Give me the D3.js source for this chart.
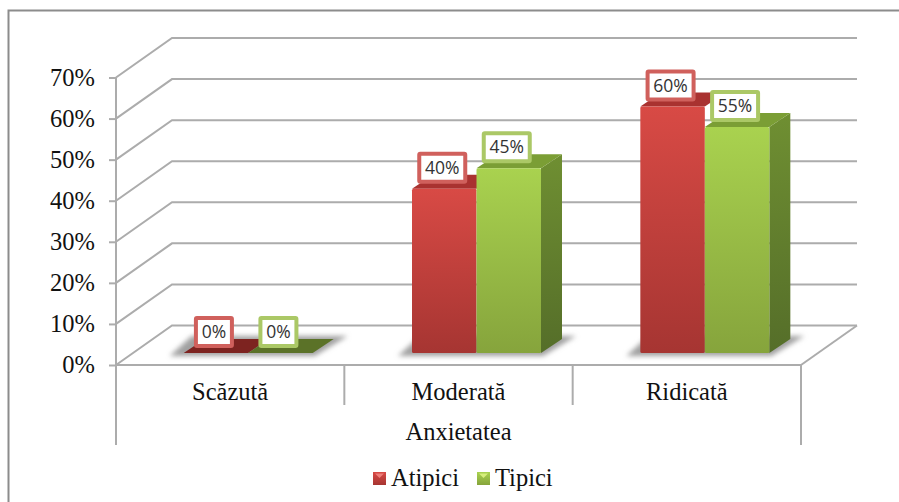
<!DOCTYPE html>
<html>
<head>
<meta charset="utf-8">
<script src="https://cdn.jsdelivr.net/npm/d3@7"></script>
<style>
    html, body { margin: 0; padding: 0; background: #fff; }
    svg { display: block; }
    .serif { font-family: "Liberation Serif", serif; font-size: 24.5px; fill: #111; }
    .data-label { font-family: "Open Sans", sans-serif; font-size: 17.5px; fill: #333; }
</style>
</head>
<body>
<div id="chart"></div>
<script>
const categories = ['Scăzută', 'Moderată', 'Ridicată'];
const seriesNames = ['Atipici', 'Tipici'];
const atipici = [0, 40, 60];
const tipici = [0, 45, 55];
const yTicks = [0, 10, 20, 30, 40, 50, 60, 70];
const axisTitle = 'Anxietatea';

const width = 899, height = 502;

// the "3d" look: how far the back wall and the bars are shifted
const wall = {dx: 56, dy: -39.5};
const floorShift = {dx: 18, dy: -12};
const depth = {dx: 21, dy: -14};

const svg = d3.select('#chart').append('svg')
    .attr('width', width)
    .attr('height', height);

const xScale = d3.scaleBand().domain(categories).range([116, 801]);
const yScale = d3.scaleLinear().domain([0, 70]).range([365, 77.5]);
const barWidth = 64.5;
const seriesScale = d3.scaleBand().domain(seriesNames).range([-barWidth, barWidth]);

const colors = {
    Atipici: {top: '#d84a45', bottom: '#a63532', side: '#9c2f2c', sideEnd: '#7c2522', cap: '#a93230', flat: '#7d2320', box: '#d0605c', shine: '#ee7f7a'},
    Tipici: {top: '#a9d24f', bottom: '#86a43c', side: '#6f8f32', sideEnd: '#556e29', cap: '#7b9e35', flat: '#5b7228', box: '#abc866', shine: '#d6ee7c'}
};

const defs = svg.append('defs');
defs.append('filter').attr('id', 'blur')
    .attr('x', '-20%').attr('y', '-50%').attr('width', '140%').attr('height', '200%')
    .append('feGaussianBlur').attr('stdDeviation', 2.5);

seriesNames.forEach(s => {
    const c = colors[s];
    const front = defs.append('linearGradient').attr('id', `front-${s}`)
        .attr('x1', 0).attr('x2', 0).attr('y1', 0).attr('y2', 1);
    front.append('stop').attr('offset', '0%').attr('stop-color', c.top);
    front.append('stop').attr('offset', '100%').attr('stop-color', c.bottom);
    const side = defs.append('linearGradient').attr('id', `side-${s}`)
        .attr('x1', 0).attr('x2', 0).attr('y1', 0).attr('y2', 1);
    side.append('stop').attr('offset', '0%').attr('stop-color', c.side);
    side.append('stop').attr('offset', '100%').attr('stop-color', c.sideEnd);
});

// outer frame, only top and left are inside the picture
svg.append('path')
    .attr('d', `M8.5,${height}V10.5H${width}`)
    .attr('fill', 'none')
    .attr('stroke', '#8c8c8c')
    .attr('stroke-width', 2);

// gridlines on the back wall and the side wall
const gridColor = '#acacac';
const x0 = xScale.range()[0], x1 = xScale.range()[1];

svg.append('g').selectAll('path')
    .data(yTicks)
    .join('path')
    .attr('d', d => `M${x0},${yScale(d)}L${x0 + wall.dx},${yScale(d) + wall.dy}H${x1 + wall.dx}`)
    .attr('fill', 'none')
    .attr('stroke', gridColor)
    .attr('stroke-width', 2);

// floor edges
svg.append('path')
    .attr('d', `M${x1 + wall.dx},${yScale(0) + wall.dy}L${x1},${yScale(0)}`)
    .attr('fill', 'none')
    .attr('stroke', gridColor)
    .attr('stroke-width', 2);

// y axis
const yAxis = d3.axisLeft(yScale)
    .tickValues(yTicks)
    .tickFormat(d => d + '%')
    .tickSize(7)
    .tickPadding(14);
const yAxisG = svg.append('g')
    .attr('transform', `translate(${x0},0)`)
    .call(yAxis);
yAxisG.select('.domain').remove();
yAxisG.selectAll('line').attr('stroke', gridColor).attr('stroke-width', 2);
yAxisG.selectAll('text').attr('class', 'serif').attr('font-family', null).attr('font-size', null);

// x axis line, category separators and the long outer ones
const lineTicks = [...categories.map(c => xScale(c)), x1];
svg.append('path')
    .attr('d', `M${x0},${yScale(70)}V445`)
    .attr('fill', 'none').attr('stroke', gridColor).attr('stroke-width', 2);
svg.append('path')
    .attr('d', `M${x0},${yScale(0)}H${x1}`)
    .attr('fill', 'none').attr('stroke', gridColor).attr('stroke-width', 2);
svg.append('g').selectAll('line')
    .data(lineTicks)
    .join('line')
    .attr('x1', d => d).attr('x2', d => d)
    .attr('y1', yScale(0))
    .attr('y2', (d, i) => (i === 0 || i === lineTicks.length - 1) ? 445 : 405)
    .attr('stroke', gridColor)
    .attr('stroke-width', 2);

svg.append('g').selectAll('text')
    .data(categories)
    .join('text')
    .attr('class', 'serif')
    .attr('x', d => xScale(d) + xScale.bandwidth() / 2)
    .attr('y', 392)
    .attr('dy', '.33em')
    .attr('text-anchor', 'middle')
    .text(d => d);

svg.append('text')
    .attr('class', 'serif')
    .attr('x', (x0 + x1) / 2)
    .attr('y', 432)
    .attr('dy', '.33em')
    .attr('text-anchor', 'middle')
    .text(axisTitle);

// bar data
const barData = [];
seriesNames.forEach((s, si) => {
    const vals = si === 0 ? atipici : tipici;
    categories.forEach((c, ci) => {
        barData.push({series: s, category: c, value: vals[ci]});
    });
});

const barLeft = d => xScale(d.category) + xScale.bandwidth() / 2 + floorShift.dx + seriesScale(d.series);
const barBase = yScale(0) + floorShift.dy;
const barTop = d => yScale(d.value) + floorShift.dy;

// soft floor shadow under each pair of bars
const shadows = svg.append('g').attr('filter', 'url(#blur)');
shadows.selectAll('path')
    .data(categories)
    .join('path')
    .attr('d', c => {
        const mid = xScale(c) + xScale.bandwidth() / 2 + floorShift.dx;
        const l = mid - barWidth, r = mid + barWidth;
        return `M${l - 14},${barBase + 3}L${r + 2},${barBase + 3}L${r + 35},${barBase - 17}L${l + 8},${barBase - 17}Z`;
    })
    .attr('fill', '#a0a0a0');

const bars = svg.append('g').selectAll('g')
    .data(barData)
    .join('g');

// side face
bars.filter(d => d.value > 0 && d.series === 'Tipici').append('path')
    .attr('d', d => {
        const r = barLeft(d) + barWidth;
        return `M${r},${barTop(d)}l${depth.dx},${depth.dy}V${barBase + depth.dy}L${r},${barBase}Z`;
    })
    .attr('fill', d => `url(#side-${d.series})`);

// top face
bars.append('path')
    .attr('d', d => {
        const l = barLeft(d);
        return `M${l},${barTop(d)}l${depth.dx},${depth.dy}h${barWidth}l${-depth.dx},${-depth.dy}Z`;
    })
    .attr('fill', d => d.value > 0 ? colors[d.series].cap : colors[d.series].flat);

// front face
bars.filter(d => d.value > 0).append('rect')
    .attr('x', d => barLeft(d))
    .attr('y', d => barTop(d))
    .attr('width', barWidth)
    .attr('height', d => barBase - barTop(d))
    .attr('rx', 1.5)
    .attr('fill', d => `url(#front-${d.series})`);

// data labels
const labelW = d => d.value === 0 ? 36 : 46;
const labels = svg.append('g').selectAll('g')
    .data(barData)
    .join('g')
    .attr('transform', d => `translate(${barLeft(d) + barWidth / 2 - 2},${barTop(d) - 21})`);

labels.append('rect')
    .attr('x', d => -labelW(d) / 2)
    .attr('y', -14)
    .attr('width', labelW)
    .attr('height', 28)
    .attr('rx', 1)
    .attr('fill', '#fff')
    .attr('stroke', d => colors[d.series].box)
    .attr('stroke-width', 4);

labels.append('text')
    .attr('class', 'data-label')
    .attr('text-anchor', 'middle')
    .attr('dy', '.36em')
    .text(d => d.value + '%');

// legend
const legendX = d3.scaleOrdinal().domain(seriesNames).range([373, 477]);
const legend = svg.append('g').selectAll('g')
    .data(seriesNames)
    .join('g')
    .attr('transform', d => `translate(${legendX(d)},472)`);

legend.append('rect')
    .attr('width', 13)
    .attr('height', 13)
    .attr('fill', d => `url(#front-${d})`);

// small bevel on the swatch top
legend.append('path')
    .attr('d', 'M2,1.5H11L6.5,6Z')
    .attr('fill', d => colors[d].shine);

legend.append('text')
    .attr('class', 'serif')
    .attr('x', 18)
    .attr('y', 6)
    .attr('dy', '.33em')
    .text(d => d);
</script>
</body>
</html>
